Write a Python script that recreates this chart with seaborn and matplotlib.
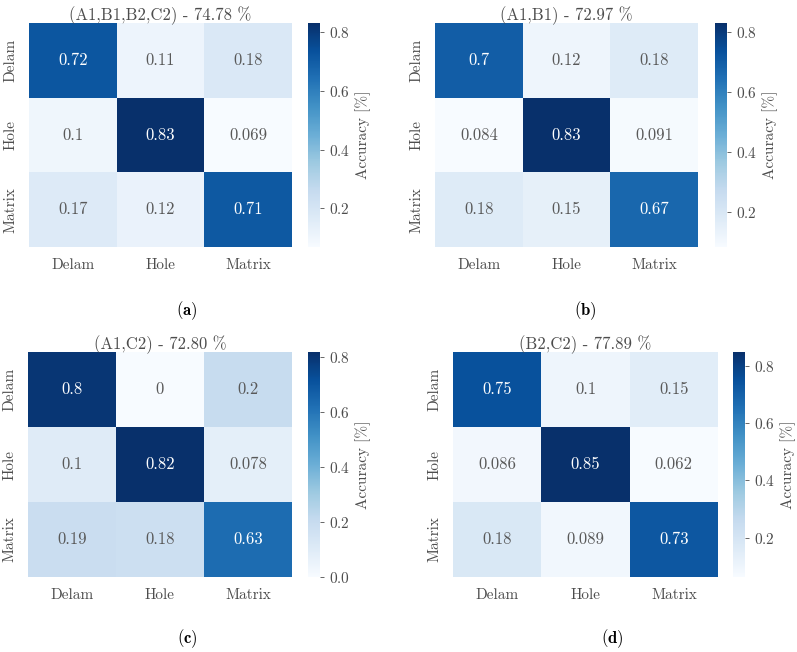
import numpy as np
import pandas as pd
import matplotlib
matplotlib.use("Agg")
import matplotlib.pyplot as plt
from matplotlib.ticker import MultipleLocator
import seaborn as sns

# ===== DATA =====
classes = ["Delam", "Hole", "Matrix"]

cm_a = [[0.72, 0.11, 0.18],
        [0.10, 0.83, 0.069],
        [0.17, 0.12, 0.71]]
cm_b = [[0.70, 0.12, 0.18],
        [0.084, 0.83, 0.091],
        [0.18, 0.15, 0.67]]
cm_c = [[0.80, 0.0, 0.20],
        [0.10, 0.82, 0.078],
        [0.19, 0.18, 0.63]]
cm_d = [[0.75, 0.10, 0.15],
        [0.086, 0.85, 0.062],
        [0.18, 0.089, 0.73]]

titles = ["(A1,B1,B2,C2) - 74.78 %", "(A1,B1) - 72.97 %",
          "(A1,C2) - 72.80 %", "(B2,C2) - 77.89 %"]
panel_labels = ["a", "b", "c", "d"]

# ===== STYLE =====
sns.set_style("white")
plt.rcParams["font.family"] = ["cmr10", "DejaVu Serif"]
plt.rcParams["axes.formatter.use_mathtext"] = True
plt.rcParams["mathtext.fontset"] = "cm"
grey = "0.3"

W, H = 797, 652
fig = plt.figure(figsize=(W / 100, H / 100), dpi=100)


def box(x0, y0, x1, y1):
    return [x0 / W, 1 - y1 / H, (x1 - x0) / W, (y1 - y0) / H]


# pixel boxes: heatmap, colorbar, label position
layout = [
    ((29, 23, 292, 247), (308, 23, 320, 247), (187, 311)),
    ((435, 23, 698, 247), (715, 23, 727, 247), (585, 311)),
    ((28, 352, 292, 577), (308, 352, 320, 577), (187, 639)),
    ((453, 352, 718, 577), (733, 352, 745, 577), (612, 639)),
]

for cm, title, lab, (hb, cb, lp) in zip([cm_a, cm_b, cm_c, cm_d], titles,
                                          panel_labels, layout):
    df = pd.DataFrame(cm, index=classes, columns=classes)
    ax = fig.add_axes(box(*hb))
    cax = fig.add_axes(box(*cb))
    sns.heatmap(df, annot=True, cmap="Blues", ax=ax, cbar_ax=cax,
                annot_kws={"fontsize": 12},
                cbar_kws={"label": "Accuracy [%]"})
    for t in ax.texts:
        c = matplotlib.colors.to_rgb(t.get_color())
        if sum(c) < 1.5:
            t.set_color("0.35")
    ax.set_title(title, fontsize=12, color=grey, pad=2)
    ax.tick_params(length=0, labelsize=11, labelcolor=grey, pad=8)
    ax.set_yticklabels(classes, rotation=90, va="center")
    ax.set_xticklabels(classes, rotation=0)
    ax.set_xlabel("")
    ax.set_ylabel("")
    cax.yaxis.set_major_locator(MultipleLocator(0.2))
    cax.tick_params(labelsize=11, labelcolor=grey, color=grey, length=3, width=0.6)
    cax.yaxis.label.set_color(grey)
    cax.yaxis.label.set_size(11)
    fig.text(lp[0] / W, 1 - lp[1] / H, "($\\mathbf{%s}$)" % lab, fontsize=12,
             ha="center", va="center", color="black")

fig.savefig("out.png", dpi=100)
